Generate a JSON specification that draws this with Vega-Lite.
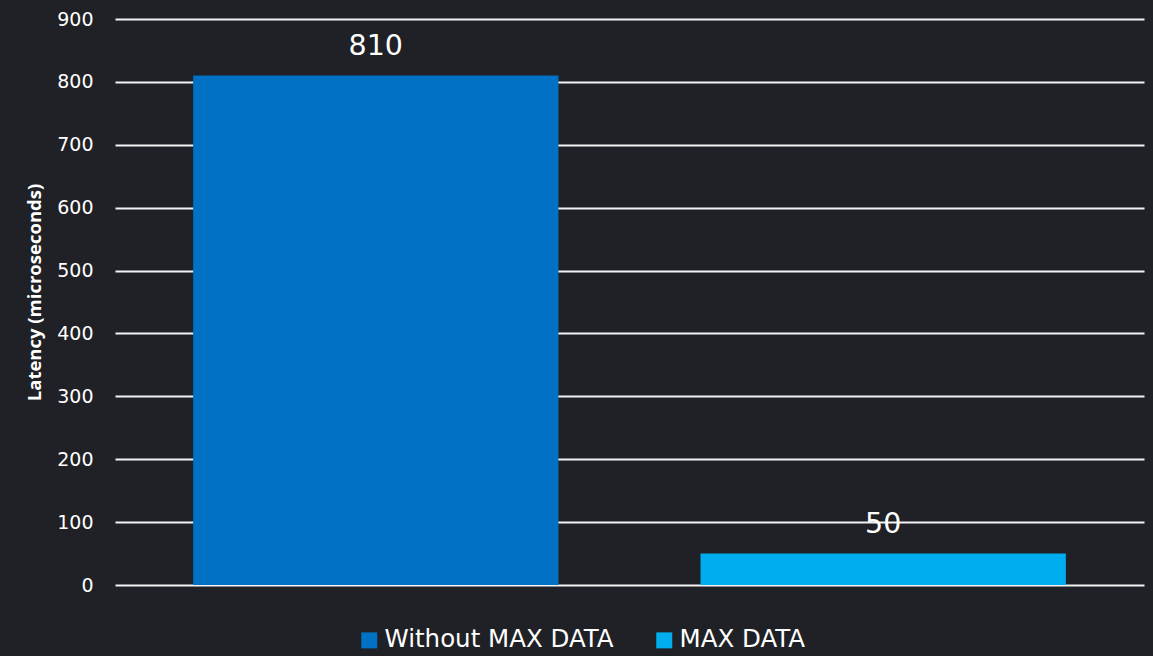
{
  "$schema": "https://vega.github.io/schema/vega-lite/v6.json",
  "width": 1029,
  "height": 566,
  "autosize": {"type": "none"},
  "padding": {"left": 115, "top": 19, "right": 9, "bottom": 71},
  "background": "#1f2126",
  "config": {
    "view": {"stroke": null},
    "font": "DejaVu Sans",
    "axis": {"labelColor": "#ffffff", "titleColor": "#ffffff"}
  },
  "data": {
    "values": [
      {"series": "Without MAX DATA", "latency": 810},
      {"series": "MAX DATA", "latency": 50}
    ]
  },
  "encoding": {
    "x": {
      "field": "series",
      "type": "nominal",
      "sort": ["Without MAX DATA", "MAX DATA"],
      "scale": {"paddingInner": 0.28, "paddingOuter": 0.154},
      "axis": null
    },
    "y": {
      "field": "latency",
      "type": "quantitative",
      "scale": {"domain": [0, 900], "nice": false},
      "axis": {
        "title": "Latency (microseconds)",
        "titleFont": "Open Sans",
        "titleFontSize": 18.5,
        "titleFontWeight": "bold",
        "titlePadding": 12,
        "titleY": 273,
        "values": [0, 100, 200, 300, 400, 500, 600, 700, 800, 900],
        "labelFontSize": 19,
        "labelPadding": 22,
        "ticks": false,
        "domain": false,
        "grid": true,
        "gridColor": "#ffffff",
        "gridWidth": 2,
        "gridOpacity": 0.95
      }
    }
  },
  "layer": [
    {
      "mark": {"type": "bar"},
      "encoding": {
        "color": {
          "field": "series",
          "type": "nominal",
          "sort": ["Without MAX DATA", "MAX DATA"],
          "scale": {"domain": ["Without MAX DATA", "MAX DATA"], "range": ["#0071c5", "#00aeef"]},
          "legend": {
            "title": null,
            "orient": "none",
            "direction": "horizontal",
            "legendX": 242,
            "legendY": 609,
            "symbolType": "square",
            "symbolSize": 256,
            "symbolStrokeWidth": 0,
            "labelFont": "DejaVu Sans",
            "labelFontSize": 24.5,
            "labelColor": "#ffffff",
            "labelOffset": 3,
            "columnPadding": 38,
            "labelLimit": 400
          }
        }
      }
    },
    {
      "mark": {"type": "text", "baseline": "alphabetic", "dy": -21, "fontSize": 28.5, "color": "#ffffff"},
      "encoding": {"text": {"field": "latency", "type": "quantitative"}}
    }
  ]
}
